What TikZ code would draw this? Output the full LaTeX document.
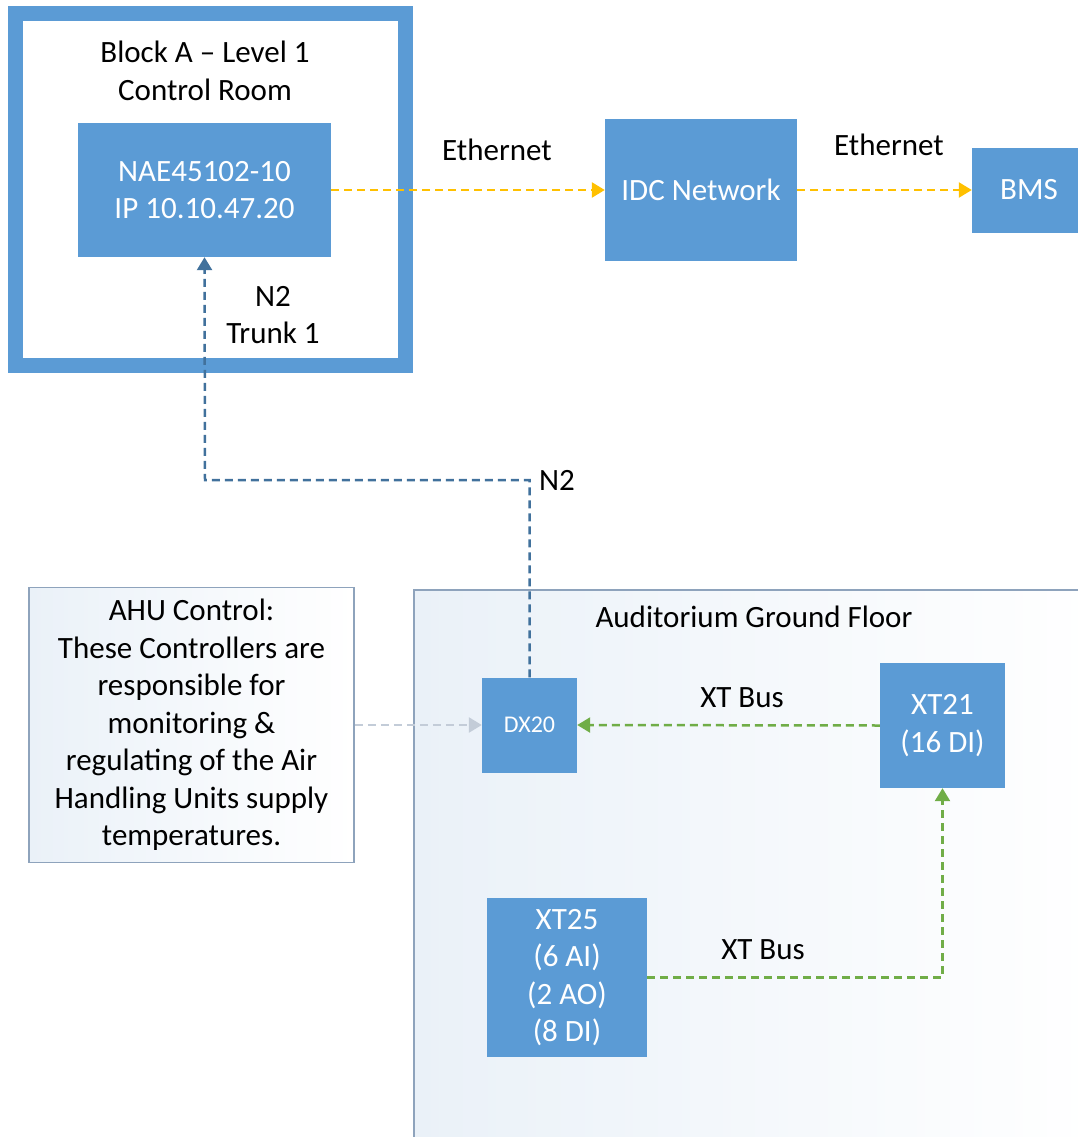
\documentclass[tikz,border=0pt]{standalone}
\usepackage{fontspec}
\setmainfont{Carlito}
\usetikzlibrary{arrows.meta}

\definecolor{unitblue}{HTML}{5B9BD5}
\definecolor{ethyellow}{HTML}{FFC000}
\definecolor{busgreen}{HTML}{70AD47}
\definecolor{ntwoblue}{HTML}{41719C}
\definecolor{linkgrey}{HTML}{C3CCD8}
\definecolor{areaedge}{HTML}{8EA3BC}
\definecolor{areafill}{HTML}{EAF1F8}

\begin{document}
\begin{tikzpicture}[x=1pt,y=1pt,yscale=-1,xscale=1,
  unit/.style={fill=unitblue,text=white,align=center,inner sep=0pt,font=\fontsize{31}{37.5}\selectfont},
  lbl/.style={align=center,inner sep=0.75pt,font=\fontsize{31}{37.5}\selectfont},
  wire/.style={line width=2.5pt,dash pattern=on 8pt off 5pt,-{Triangle[length=13pt,width=15pt]}},
  ether/.style={wire,draw=ethyellow},
  xtbus/.style={wire,draw=busgreen},
  ntwo/.style={wire,draw=ntwoblue},
  ahulink/.style={wire,draw=linkgrey}]
\useasboundingbox (0,0) rectangle (1078,1137);
\clip (0,0) rectangle (1078,1137);

%Block A frame
\draw [unitblue,line width=15pt] (15,14) rectangle (405,365) ;
%Auditorium area
\draw [areaedge,line width=1.5pt,left color=areafill,right color=white] (414,590) rectangle (1095,1160) ;

% Units
\node [unit,minimum width=253,minimum height=134] (nae) at (204.5,190) {NAE45102-10\\IP 10.10.47.20};
\node [unit,minimum width=192,minimum height=142] (idc) at (701,190) {IDC Network};
\node [unit,minimum width=114,minimum height=85] (bms) at (1029,190) {BMS};
\node [unit,minimum width=95,minimum height=95,font=\fontsize{24}{30}\selectfont] (dx) at (529.5,725) {DX20};
\node [unit,minimum width=125,minimum height=125] (xtone) at (942.5,725.5) {XT21\\(16 DI)};
\node [unit,minimum width=160,minimum height=159] (xtfive) at (567,977.5) {XT25\\(6 AI)\\(2 AO)\\(8 DI)};
% AHU note
\node [lbl,draw=areaedge,line width=1.5pt,left color=areafill,right color=white,minimum width=325,minimum height=275] (ahu) at (191.5,725) {AHU Control:\\ These Controllers are\\responsible for\\monitoring \&\\regulating of the Air\\Handling Units supply\\temperatures.};

% Text Node
\node [lbl] (blocka) at (205,71) {Block A -- Level 1\\Control Room};
% Text Node
\node [lbl] (trunk) at (273,315) {N2\\Trunk 1};
% Text Node
\node [lbl] (ethone) at (497,150) {Ethernet};
% Text Node
\node [lbl] (ethtwo) at (889,145) {Ethernet};
% Text Node
\node [lbl] (ntwolbl) at (557,480) {N2};
% Text Node
\node [lbl] (audlbl) at (754,617) {Auditorium Ground Floor};
% Text Node
\node [lbl] (busone) at (742,698) {XT Bus};
% Text Node
\node [lbl] (bustwo) at (763,950) {XT Bus};

\coordinate (ntwocorner) at (205,480);

%Connectors
\draw [ether] (nae.east) -- (idc.west) ;
\draw [ether] (idc.east) -- (bms.west) ;
\draw [ntwo] (dx.north) |- (ntwocorner) -- (nae.south) ;
\draw [xtbus] (xtone.west) -- (dx.east) ;
\draw [xtbus] (xtfive.east) -| (xtone.south) ;
\draw [ahulink] (ahu.east) -- (dx.west) ;

\end{tikzpicture}
\end{document}
